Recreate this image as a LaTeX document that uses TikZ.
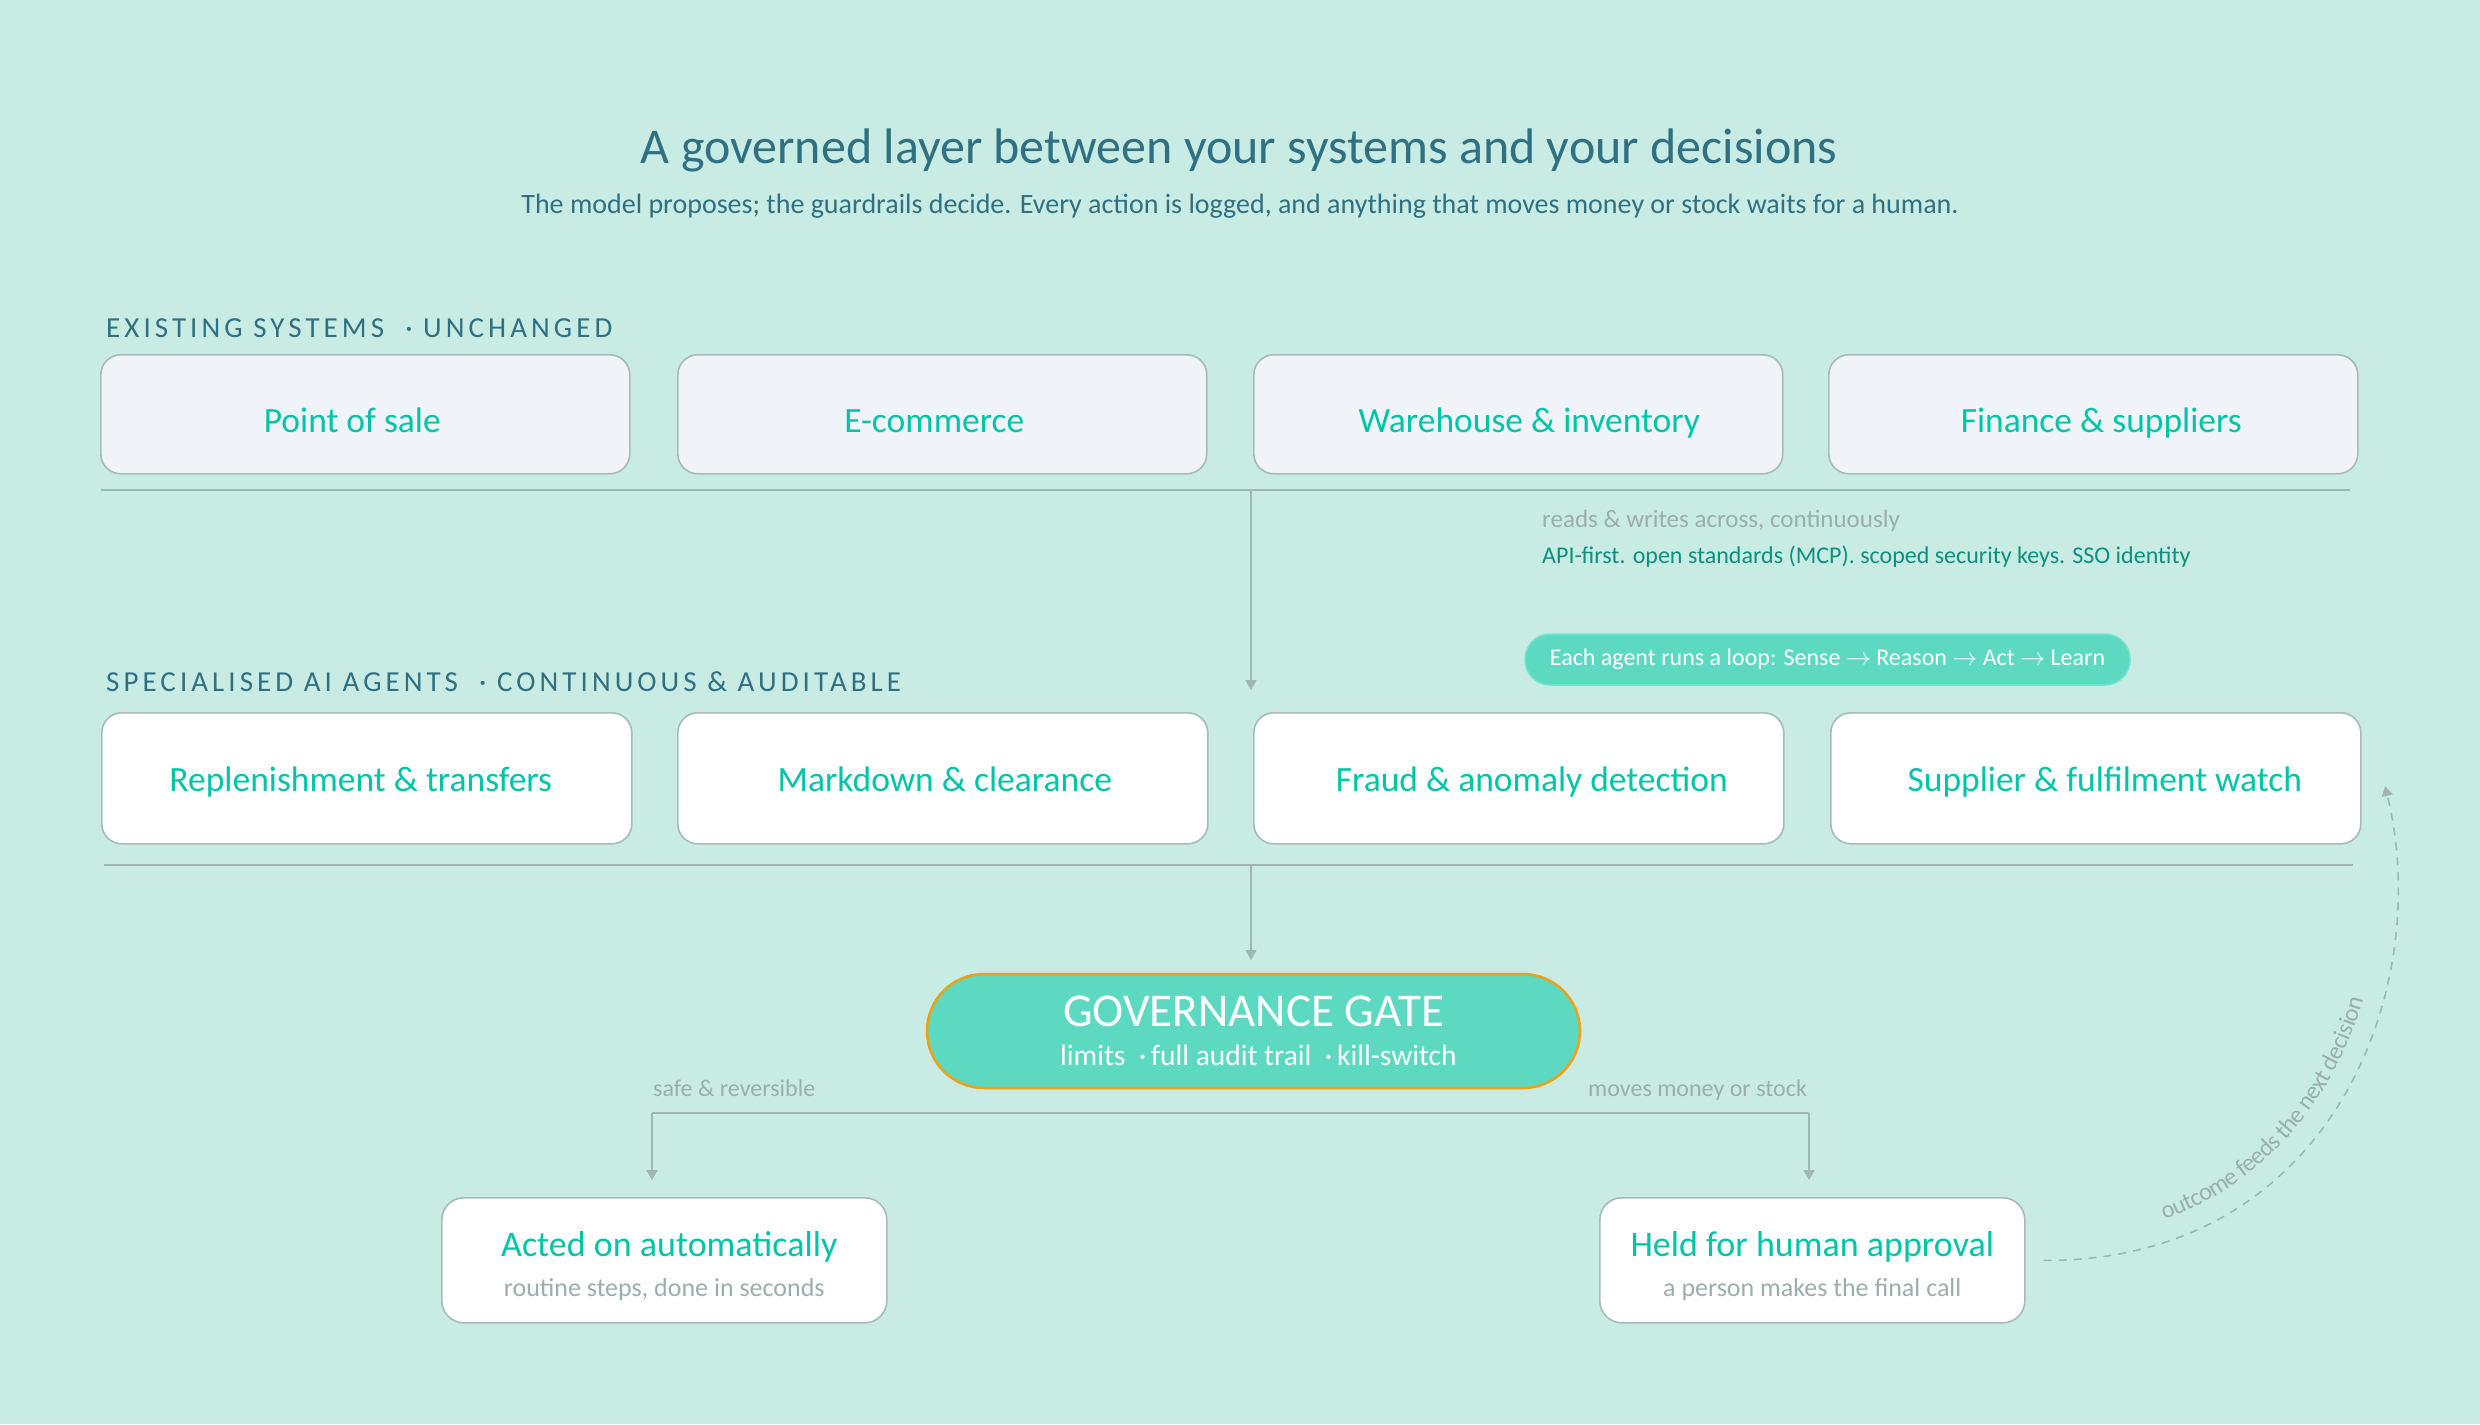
\documentclass[tikz,border=0pt]{standalone}
\usepackage{fontspec}
\setmainfont{Carlito}
\usetikzlibrary{arrows.meta,decorations.text}
\definecolor{bg}{HTML}{C8ECE4}
\definecolor{titlec}{HTML}{2F7082}
\definecolor{tealtxt}{HTML}{00C4A8}
\definecolor{boxline}{HTML}{A8BBB8}
\definecolor{topfill}{HTML}{F0F4F8}
\definecolor{greytxt}{HTML}{9AAFAB}
\definecolor{apic}{HTML}{0E8F80}
\definecolor{mint}{HTML}{5DD9C2}
\definecolor{mintline}{HTML}{74E3CF}
\definecolor{gateorange}{HTML}{F0A010}
\definecolor{linec}{HTML}{A0B6B2}
\newcommand\setfs[1]{\fontsize{#1}{#1}\selectfont}
\newcommand\shiftx[1]{\hspace*{#1}}
\begin{document}
\begin{tikzpicture}[x=1pt,y=-1pt,
  sysbox/.style={draw=boxline, line width=1.6pt, fill=topfill, rounded corners=20pt,
    minimum width=529pt, minimum height=119pt, anchor=north west, text=tealtxt,
    font=\setfs{35.5}, text height=37pt, text depth=0pt},
  agentbox/.style={sysbox, fill=white, minimum width=530pt, minimum height=131pt,
    text height=27pt, text depth=0pt},
  outbox/.style={draw=boxline, line width=1.6pt, fill=white, rounded corners=22pt,
    minimum height=125pt, anchor=north west, align=center, text=tealtxt, font=\setfs{36}},
  seclabel/.style={anchor=base west, inner sep=0pt, text=titlec,
    font=\setfs{29}\addfontfeature{LetterSpace=14}},
  note/.style={anchor=base west, inner sep=0pt, font=\setfs{25}},
  pill/.style={fill=mint, draw=mintline, line width=1.5pt, rounded corners=25pt,
    minimum width=605pt, minimum height=51pt, text=white, font=\setfs{24}},
  gate/.style={fill=mint, draw=gateorange, line width=2.5pt, rounded corners=57pt,
    minimum width=653pt, minimum height=114pt, text=white, align=center, font=\setfs{29.5}},
  plain/.style={draw=linec, line width=1.6pt},
  arr/.style={plain, -{Triangle[width=11pt,length=10pt]}},
  dasharr/.style={arr, dash pattern=on 8pt off 7pt}
]
\fill[bg] (0,0) rectangle (2480,1424);
\useasboundingbox (0,0) rectangle (2480,1424);

\node[anchor=base, text=titlec, font=\setfs{50}] (title) at (1239,163)
  {A governed layer between your systems and your decisions};
\node[anchor=base, text=titlec, font=\setfs{28}] (sub) at (1240,213)
  {The model proposes; the guardrails decide. Every action is logged, and anything that moves money or stock waits for a human.};

\node[seclabel] (lab1) at (106,337) {EXISTING SYSTEMS\ \ ·\ UNCHANGED};
\node[sysbox] (pos) at (100,354) {Point of sale\shiftx{26pt}};
\node[sysbox] (ecom) at (677,354) {E-commerce\shiftx{16pt}};
\node[sysbox] (wh) at (1253,354) {\shiftx{22pt}Warehouse \& inventory};
\node[sysbox] (fin) at (1828,354) {\shiftx{16pt}Finance \& suppliers};

\coordinate (h1a) at (101,490);
\coordinate (h1b) at (2350,490);
\draw[plain] (h1a) -- (h1b);
\coordinate (v1a) at (1251,490);
\coordinate (v1b) at (1251,690);
\draw[arr] (v1a) -- (v1b);

\node[note, text=greytxt] (rw) at (1542,527) {reads \& writes across, continuously};
\node[note, text=apic, font=\setfs{24}] (api) at (1542,563) {API-first. open standards (MCP). scoped security keys. SSO identity};
\node[pill] (loop) at (1827.5,659.5) {Each agent runs a loop: Sense $\rightarrow$ Reason $\rightarrow$ Act $\rightarrow$ Learn};

\node[seclabel] (lab2) at (106,691) {SPECIALISED AI AGENTS\ \ ·\ CONTINUOUS \& AUDITABLE};
\node[agentbox] (rep) at (101,712) {Replenishment \& transfers\shiftx{12pt}};
\node[agentbox] (mark) at (677,712) {\shiftx{4pt}Markdown \& clearance};
\node[agentbox] (fraud) at (1253,712) {\shiftx{26pt}Fraud \& anomaly detection};
\node[agentbox] (supp) at (1830,712) {\shiftx{18pt}Supplier \& fulfilment watch};

\coordinate (h2a) at (104,865);
\coordinate (h2b) at (2353,865);
\draw[plain] (h2a) -- (h2b);
\coordinate (v2a) at (1251,865);
\coordinate (v2b) at (1251,960);
\draw[arr] (v2a) -- (v2b);

\node[gate] (gate) at (1253.5,1031)
  {{\setfs{47}GOVERNANCE GATE}\\[10pt]\shiftx{10pt}limits~~·\,full audit trail~~·\,kill-switch};

\node[note, text=greytxt, font=\setfs{24}] (safe) at (653,1096) {safe \& reversible};
\node[note, text=greytxt, font=\setfs{24}] (money) at (1588,1096) {moves money or stock};

\coordinate (sl) at (652,1113);
\coordinate (sr) at (1809,1113);
\coordinate (al) at (652,1180);
\coordinate (ar) at (1809,1180);
\draw[plain] (sl) -- (sr);
\draw[arr] (sl) -- (al);
\draw[arr] (sr) -- (ar);

\node[outbox, minimum width=445pt] (auto) at (441,1197)
  {\rule{0pt}{36pt}\shiftx{10pt}Acted on automatically\\[4pt]{\setfs{26}\color{greytxt}routine steps, done in seconds}};
\node[outbox, minimum width=425pt] (held) at (1599,1197)
  {\rule{0pt}{36pt}Held for human approval\\[4pt]{\setfs{26}\color{greytxt}a person makes the final call}};

\coordinate (loopend) at (2385,786);
\draw[dasharr, shorten <=18pt] (held.east) .. controls (2330,1262) and (2435,990) .. (loopend);
\path[decorate, decoration={text along path,
    text={|\setfs{24.5}|outcome feeds the next decision},
    text color=greytxt, text align={left indent=148pt}, raise=18pt}]
  (held.east) .. controls (2330,1262) and (2435,990) .. (loopend);
\end{tikzpicture}
\end{document}
